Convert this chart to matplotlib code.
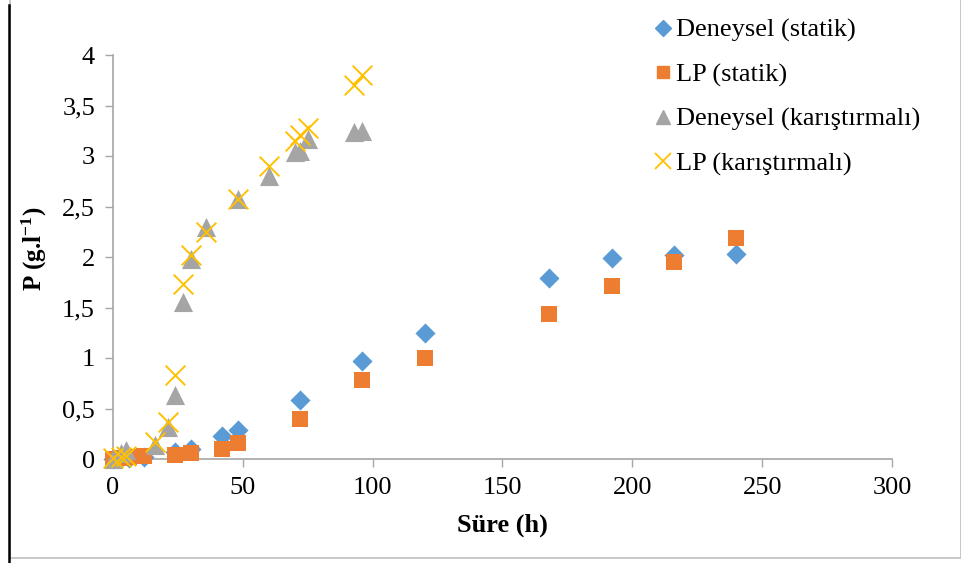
import matplotlib
matplotlib.use("Agg")
import matplotlib.pyplot as plt
from matplotlib.lines import Line2D
from matplotlib.patches import Rectangle

# Data
t_static = [0, 3, 6, 12, 24, 30, 42, 48, 72, 96, 120, 168, 192, 216, 240]
exp_static = [0.0, 0.01, 0.01, 0.02, 0.07, 0.10, 0.23, 0.29, 0.58, 0.97, 1.25, 1.79, 1.99, 2.02, 2.03]
lp_static = [0.0, 0.01, 0.02, 0.03, 0.04, 0.06, 0.10, 0.16, 0.40, 0.78, 1.00, 1.44, 1.71, 1.95, 2.19]

t_mix = [0, 3, 5, 16, 21, 24, 27, 30, 36, 48, 60, 70, 72, 75, 93, 96]
exp_mix = [0.0, 0.06, 0.09, 0.14, 0.32, 0.63, 1.55, 1.98, 2.30, 2.57, 2.80, 3.04, 3.05, 3.17, 3.24, 3.25]
lp_mix = [0.01, 0.02, 0.03, 0.17, 0.37, 0.83, 1.73, 2.02, 2.25, 2.57, 2.90, 3.15, 3.21, 3.28, 3.70, 3.80]

labels = ["Deneysel (statik)", "LP (statik)", "Deneysel (karıştırmalı)", "LP (karıştırmalı)"]
x_ticks = [0, 50, 100, 150, 200, 250, 300]
y_ticks = [0, 0.5, 1, 1.5, 2, 2.5, 3, 3.5, 4]
y_ticklabels = ["0", "0,5", "1", "1,5", "2", "2,5", "3", "3,5", "4"]

plt.rcParams['font.family'] = ['Liberation Serif', 'DejaVu Serif']
plt.rcParams['mathtext.fontset'] = 'custom'
plt.rcParams['mathtext.rm'] = 'Liberation Serif'
plt.rcParams['mathtext.bf'] = 'Liberation Serif:bold'
plt.rcParams['mathtext.default'] = 'bf'

W, H = 962, 563
fig = plt.figure(figsize=(W / 100, H / 100), dpi=100)
ax = fig.add_axes([113 / W, 1 - 459 / H, (892 - 113) / W, (459 - 55) / H])

blue = '#5B9BD5'
orange = '#ED7D31'
gray = '#A5A5A5'
yellow = '#FFC000'

ax.scatter(t_static, exp_static, marker='D', s=105, color=blue, zorder=3, clip_on=False, linewidths=0)
ax.scatter(t_static, lp_static, marker='s', s=140, color=orange, zorder=3, clip_on=False, linewidths=0)
ax.scatter(t_mix, exp_mix, marker='^', s=190, color=gray, zorder=4, clip_on=False, linewidths=0)
ax.scatter(t_mix, lp_mix, marker='x', s=200, color=yellow, zorder=5, clip_on=False, linewidths=1.4)

ax.set_xlim(0, 300)
ax.set_ylim(0, 4)
ax.set_xticks(x_ticks)
ax.set_yticks(y_ticks)
ax.set_yticklabels(y_ticklabels)
ax.tick_params(axis='both', labelsize=19, color='#A6A6A6', length=6, width=1, direction='out')
ax.tick_params(axis='x', pad=7)
ax.tick_params(axis='y', pad=7)
for side in ['top', 'right']:
    ax.spines[side].set_visible(False)
for side in ['left', 'bottom']:
    ax.spines[side].set_color('#A6A6A6')
    ax.spines[side].set_linewidth(1.2)

ax.set_xlabel("Süre (h)", fontsize=19, fontweight='bold')
ax.set_ylabel("P (g.l$^{-1}$)", fontsize=18, fontweight='bold')
ax.xaxis.set_label_coords(0.5, -0.135)
ax.yaxis.set_label_coords(-0.082, 0.52)

handles = [
    Line2D([], [], marker='D', color=blue, linestyle='none', markersize=8),
    Line2D([], [], marker='s', color=orange, linestyle='none', markersize=9),
    Line2D([], [], marker='^', color=gray, linestyle='none', markersize=10),
    Line2D([], [], marker='x', color=yellow, linestyle='none', markersize=11, markeredgewidth=1.3),
]
fig.legend(handles, labels, loc='upper left', bbox_to_anchor=(642 / W, 1 - 8 / H),
           frameon=False, fontsize=19, handlelength=0.8, handletextpad=0.1,
           labelspacing=0.78, borderaxespad=0)

# outer frame
fig.add_artist(Rectangle((10 / W, 1 - 558 / H), (961 - 10) / W, 558 / H + 0.05,
                         transform=fig.transFigure, fill=False, edgecolor='#BFBFBF', linewidth=1.2))
fig.add_artist(Line2D([8.5 / W, 8.5 / W], [0, 1 - 5 / H], transform=fig.transFigure,
                      color='black', linewidth=1.8))

fig.savefig("out.png", dpi=100)
